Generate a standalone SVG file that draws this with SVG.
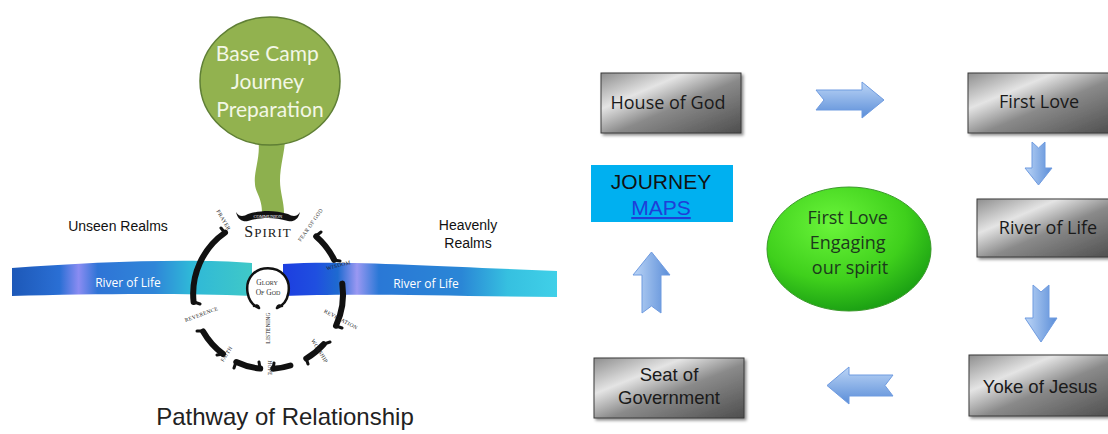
<svg xmlns="http://www.w3.org/2000/svg" width="1108" height="434" viewBox="0 0 1108 434">
<defs>
<style>
.box{stroke:#3a3a3a;stroke-width:1;fill:url(#gray);filter:url(#sh)}
.bt{font-family:"Open Sans","Liberation Sans",sans-serif;font-size:18px;fill:#1a1a1a;text-anchor:middle}
.at{font-family:"Liberation Sans",Arial,sans-serif;font-size:18.5px;fill:#1a1a1a;text-anchor:middle}
.arr{fill:url(#blueH);stroke:#6f9be0;stroke-width:1}
.arrv{fill:url(#blueV);stroke:#6f9be0;stroke-width:1}
.ring{fill:none;stroke:#111;stroke-width:6;stroke-linecap:round}
.lab{font-family:"Liberation Serif",serif;font-size:5.5px;fill:#222;text-anchor:middle;letter-spacing:0.3px}
.rv{font-family:"Open Sans","Liberation Sans",sans-serif;font-size:12px;fill:#fff;text-anchor:middle}
.blk{font-family:"Liberation Sans",Arial,sans-serif;font-size:14px;fill:#111;text-anchor:middle}
</style>
<linearGradient id="gray" x1="0" y1="0" x2="1" y2="1">
<stop offset="0" stop-color="#8e8e8e"/>
<stop offset="0.3" stop-color="#e4e4e4"/>
<stop offset="0.55" stop-color="#8a8a8a"/>
<stop offset="1" stop-color="#4e4e4e"/>
</linearGradient>
<linearGradient id="blueH" x1="0" y1="0" x2="0" y2="1">
<stop offset="0" stop-color="#bcd5f6"/>
<stop offset="1" stop-color="#5a8dd8"/>
</linearGradient>
<linearGradient id="blueV" x1="0" y1="0" x2="1" y2="0">
<stop offset="0" stop-color="#bcd5f6"/>
<stop offset="1" stop-color="#5a8dd8"/>
</linearGradient>
<radialGradient id="green" cx="0.4" cy="0.3" r="0.75">
<stop offset="0" stop-color="#6af53a"/>
<stop offset="0.6" stop-color="#3fd01c"/>
<stop offset="1" stop-color="#169a12"/>
</radialGradient>
<linearGradient id="riverL" x1="12" y1="0" x2="250" y2="0" gradientUnits="userSpaceOnUse">
<stop offset="0" stop-color="#1d58b8"/>
<stop offset="0.2" stop-color="#2a6fd4"/>
<stop offset="0.28" stop-color="#8a8cf2"/>
<stop offset="0.36" stop-color="#2f74d6"/>
<stop offset="0.6" stop-color="#2f86d8"/>
<stop offset="0.75" stop-color="#2fb8d8"/>
<stop offset="1" stop-color="#3fc8c8"/>
</linearGradient>
<linearGradient id="riverR" x1="283" y1="0" x2="557" y2="0" gradientUnits="userSpaceOnUse">
<stop offset="0" stop-color="#1d3ee0"/>
<stop offset="0.12" stop-color="#1f4fe0"/>
<stop offset="0.2" stop-color="#1e6ad0"/>
<stop offset="0.27" stop-color="#9a98f2"/>
<stop offset="0.35" stop-color="#2a78d6"/>
<stop offset="0.65" stop-color="#2a86d6"/>
<stop offset="0.82" stop-color="#36c0e0"/>
<stop offset="1" stop-color="#40d0e8"/>
</linearGradient>
<filter id="sh" x="-10%" y="-10%" width="125%" height="130%">
<feDropShadow dx="2" dy="2" stdDeviation="1.5" flood-color="#000" flood-opacity="0.45"/>
</filter>
</defs>

<!-- left: pathway of relationship -->
<g id="river">
<path d="M12,268 C90,262 190,258 252,263 L252,296 C180,293 90,294 12,296 Z" fill="url(#riverL)"/>
<path d="M283,264 C340,260 430,266 557,271 L557,297 C450,296 350,293 283,296 Z" fill="url(#riverR)"/>
<text class="rv" x="128" y="287">River of Life</text>
<text class="rv" x="426" y="288">River of Life</text>
</g>

<g id="base-camp">
<path d="M258,138 C262,160 250,176 257,192 C261,201 262,206 262,213 L284,213 C284,202 280,192 280,181 C280,165 285,152 285,138 Z" fill="#8db04e"/>
<ellipse cx="270" cy="81" rx="70" ry="64" fill="#92b24f" stroke="#5f7f35" stroke-width="1.5"/>
<text font-family="Lato,'Open Sans',sans-serif" font-size="21" fill="#f3f7e6" text-anchor="middle">
<tspan x="270" y="61">Base Camp</tspan>
<tspan x="270" y="89">Journey</tspan>
<tspan x="270" y="117">Preparation</tspan>
</text>
</g>

<g id="wheel">
<path class="ring" d="M316.2,236.5 A75,75 0 0 1 334.2,259.8"/>
<path class="ring" d="M342.3,283.6 A75,75 0 0 1 336.0,325.7"/>
<path class="ring" d="M323.7,344.2 A75,75 0 0 1 306.3,358.5"/>
<path class="ring" d="M290.4,365.5 A75,75 0 0 1 273.2,368.8"/>
<path class="ring" d="M260.2,368.6 A75,75 0 0 1 236.3,362.0"/>
<path class="ring" d="M223.0,354.0 A75,75 0 0 1 203.1,331.5"/>
<path class="ring" d="M193.6,302.0 A75,75 0 0 1 225.0,232.6"/>
<path d="M316,236 l5,-4 M334,260 l6,1 M336,326 l6,2 M324,344 l6,-2 M306,358 l2,6 M273,369 l1,-6 M260,368 l-1,-6 M236,362 l-2,6 M223,354 l-6,1 M203,331 l-6,0 M194,302 l6,2 M225,233 l-4,-5" stroke="#111" stroke-width="3" stroke-linecap="round" fill="none"/>
<path d="M236,212 C240,218 244,216 248,214 C262,210 274,210 288,214 C292,216 296,218 300,212 C298,221 292,222 288,221 C274,217 262,217 248,221 C244,222 238,221 236,212 Z" fill="#111"/>
<text x="268" y="217.5" font-family="'Liberation Serif',serif" font-size="4.5" fill="#fff" text-anchor="middle">COMMUNION</text>
<text x="268" y="237" font-family="'Liberation Serif',serif" font-size="16" fill="#1a1a1a" text-anchor="middle" letter-spacing="1">S<tspan font-size="13">PIRIT</tspan></text>
<text class="lab" transform="translate(222,221) rotate(60)">PRAYER</text>
<text class="lab" transform="translate(312,226) rotate(-55)">FEAR OF GOD</text>
<text class="lab" transform="translate(339,267) rotate(-15)">WISDOM</text>
<text class="lab" transform="translate(340,321) rotate(28)">REVELATION</text>
<text class="lab" transform="translate(318,352) rotate(58)">WORSHIP</text>
<text class="lab" transform="translate(268,368) rotate(90)">HOPE</text>
<text class="lab" transform="translate(228,355) rotate(-58)">FAITH</text>
<text class="lab" transform="translate(202,316) rotate(-20)">REVERENCE</text>
<path d="M259,308 C258,305 256,305 254,306 M277,308 C278,305 280,305 282,306 M259,308 C246,303 244,284 252,275 C260,266 276,266 284,275 C292,284 290,303 277,308" fill="#fff" stroke="#111" stroke-width="2.5" stroke-linecap="round"/>
<text font-family="'Liberation Serif',serif" font-size="7.5" fill="#333" text-anchor="middle">
<tspan x="268" y="285">G<tspan font-size="6">LORY</tspan></tspan>
<tspan x="268" y="295">O<tspan font-size="6">F</tspan> G<tspan font-size="6">OD</tspan></tspan>
</text>
<text class="lab" transform="translate(270,328) rotate(-90)">LISTENING</text>
</g>

<text class="blk" x="118" y="231">Unseen Realms</text>
<text class="blk"><tspan x="468" y="230">Heavenly</tspan><tspan x="468" y="248">Realms</tspan></text>
<text x="285" y="425" font-family="'Liberation Sans',Arial,sans-serif" font-size="24" fill="#222" text-anchor="middle">Pathway of Relationship</text>

<!-- right: journey maps -->
<g id="house-of-god">
<rect class="box" x="601" y="73" width="140" height="60"/>
<text class="bt" x="668" y="109">House of God</text>
</g>
<g id="first-love">
<rect class="box" x="968" y="73" width="145" height="60"/>
<text class="bt" x="1039" y="108">First Love</text>
</g>
<g id="river-of-life">
<rect class="box" x="977" y="199" width="136" height="58"/>
<text class="bt" x="1048" y="234">River of Life</text>
</g>
<g id="yoke-of-jesus">
<rect class="box" x="969" y="355" width="144" height="61"/>
<text class="at" x="1040" y="393">Yoke of Jesus</text>
</g>
<g id="seat-of-government">
<rect class="box" x="594" y="358" width="150" height="60"/>
<text class="at"><tspan x="669" y="381">Seat of</tspan><tspan x="669" y="404">Government</tspan></text>
</g>
<g id="journey-maps">
<rect x="591" y="165" width="142" height="57" fill="#00b0f0"/>
<text x="661" y="189" font-family="'Liberation Sans',Arial,sans-serif" font-size="21" fill="#111" text-anchor="middle">JOURNEY</text>
<text x="661" y="215" font-family="'Liberation Sans',Arial,sans-serif" font-size="21" fill="#1f3fd8" text-anchor="middle" text-decoration="underline">MAPS</text>
</g>
<g id="first-love-engaging">
<ellipse cx="849" cy="249" rx="82" ry="62" fill="url(#green)" stroke="#3a9a2a" stroke-width="1"/>
<text font-family="'Open Sans','Liberation Sans',sans-serif" font-size="18" fill="#1c3a1c" text-anchor="middle">
<tspan x="850" y="224">First Love</tspan>
<tspan x="850" y="249">Engaging</tspan>
<tspan x="850" y="274">our spirit</tspan>
</text>
</g>

<g id="connectors">
<polygon class="arr" points="816,90 862,90 862,82 884,100 862,118 862,110 816,110 824,100"/>
<polygon class="arrv" points="1032,142 1038.5,148 1045,142 1045,168 1052,168 1038.5,185 1025,168 1032,168"/>
<polygon class="arrv" points="1033,285 1041,292 1049,285 1049,318 1057,318 1041,342 1025,318 1033,318"/>
<polygon class="arr" points="893,375 849,375 849,367 827,385.5 849,404 849,396 893,396 885,385.5"/>
<polygon class="arrv" points="642,313 651.5,306 661,313 661,275 670,275 651.5,252 633,275 642,275"/>
</g>
</svg>
